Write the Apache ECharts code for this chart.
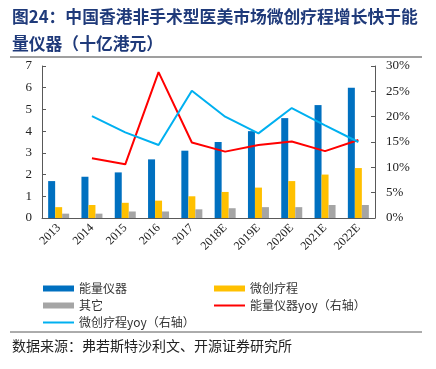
<!DOCTYPE html>
<html><head><meta charset="utf-8">
<script src="https://cdn.jsdelivr.net/npm/echarts@6/dist/echarts.min.js"></script>
<style>html,body{margin:0;padding:0;background:#fff}#c{width:436px;height:369px}</style>
</head><body><div id="c"></div>
<script>
const categories = ['2013','2014','2015','2016','2017','2018E','2019E','2020E','2021E','2022E'];
const energyDevices = [1.7, 1.9, 2.1, 2.7, 3.1, 3.5, 4.0, 4.6, 5.2, 6.0];
const minimallyInvasive = [0.5, 0.6, 0.7, 0.8, 1.0, 1.2, 1.4, 1.7, 2.0, 2.3];
const others = [0.2, 0.2, 0.3, 0.3, 0.4, 0.45, 0.5, 0.5, 0.6, 0.6];
const energyYoy = [null, 11.8, 10.6, 28.8, 14.9, 13.1, 14.4, 15.1, 13.2, 15.4];
const minimallyYoy = [null, 20.1, 16.9, 14.4, 25.1, 20.0, 16.7, 21.7, 18.3, 15.0];
const leftTicks = {min: 0, max: 7, interval: 1};
const rightTicks = {min: 0, max: 30, interval: 5};

const titleLine1 = '图24：中国香港非手术型医美市场微创疗程增长快于能';
const titleLine2 = '量仪器（十亿港元）';
const sourceText = '数据来源：弗若斯特沙利文、开源证券研究所';

const cjk = '"Noto Sans CJK SC", sans-serif';
const serif = '"Liberation Serif", "Times New Roman", serif';
const axisColor = '#595959';
const lineIcon = 'path://M0,0 L31,0 L31,2 L0,2 Z';

const chart = echarts.init(document.getElementById('c'));
chart.setOption({
  animation: false,
  backgroundColor: '#fff',
  grid: {left: 42, right: 61, top: 66, bottom: 151},
  graphic: [
    {type: 'text', left: 12, top: 8, style: {text: titleLine1, font: 'bold 16.8px ' + cjk, fill: '#1F3A7A'}},
    {type: 'text', left: 12, top: 35, style: {text: titleLine2, font: 'bold 16.8px ' + cjk, fill: '#1F3A7A'}},
    {type: 'line', shape: {x1: 10, y1: 57, x2: 422, y2: 57}, style: {stroke: '#7f7f7f', lineWidth: 1.5}},
    {type: 'line', shape: {x1: 10, y1: 332, x2: 422, y2: 332}, style: {stroke: '#595959', lineWidth: 1}},
    {type: 'text', left: 12, top: 339, style: {text: sourceText, font: '14px ' + cjk, fill: '#222'}}
  ],
  legend: [
    {data: [{name: '能量仪器', icon: 'rect'}, {name: '其它', icon: 'rect'}, {name: '微创疗程yoy（右轴）', icon: lineIcon}],
     orient: 'vertical', left: 38, top: 275, itemWidth: 31, itemHeight: 6, itemGap: 0,
     textStyle: {fontFamily: cjk, fontSize: 12, color: '#333', lineHeight: 17, height: 17}},
    {data: [{name: '微创疗程', icon: 'rect'}, {name: '能量仪器yoy（右轴）', icon: lineIcon}],
     orient: 'vertical', left: 209, top: 275, itemWidth: 31, itemHeight: 6, itemGap: 0,
     textStyle: {fontFamily: cjk, fontSize: 12, color: '#333', lineHeight: 17, height: 17}}
  ],
  xAxis: {
    type: 'category', data: categories, boundaryGap: true,
    axisLine: {lineStyle: {color: axisColor, width: 1}},
    axisTick: {inside: true, length: 3, lineStyle: {color: axisColor}},
    axisLabel: {rotate: 45, interval: 0, fontFamily: serif, fontSize: 12, color: '#222', margin: 8}
  },
  yAxis: [
    {type: 'value', min: leftTicks.min, max: leftTicks.max, interval: leftTicks.interval,
     splitLine: {show: false},
     axisLine: {show: true, lineStyle: {color: axisColor}},
     axisTick: {show: true, inside: true, length: 4, lineStyle: {color: axisColor}},
     axisLabel: {fontFamily: serif, fontSize: 13, color: '#222', margin: 10}},
    {type: 'value', min: rightTicks.min, max: rightTicks.max, interval: rightTicks.interval,
     splitLine: {show: false},
     axisLine: {show: true, lineStyle: {color: axisColor}},
     axisTick: {show: true, inside: true, length: 4, lineStyle: {color: axisColor}},
     axisLabel: {fontFamily: serif, fontSize: 13, color: '#222', margin: 11, formatter: '{value}%'}}
  ],
  series: [
    {name: '能量仪器', type: 'bar', data: energyDevices, barWidth: 7, barGap: '0%', itemStyle: {color: '#0070C0'}},
    {name: '微创疗程', type: 'bar', data: minimallyInvasive, barWidth: 7, barGap: '0%', itemStyle: {color: '#FFC000'}},
    {name: '其它', type: 'bar', data: others, barWidth: 7, barGap: '0%', itemStyle: {color: '#A5A5A5'}},
    {name: '能量仪器yoy（右轴）', type: 'line', yAxisIndex: 1, data: energyYoy, symbol: 'none',
     lineStyle: {color: '#FF0000', width: 2}, itemStyle: {color: '#FF0000'}},
    {name: '微创疗程yoy（右轴）', type: 'line', yAxisIndex: 1, data: minimallyYoy, symbol: 'none',
     lineStyle: {color: '#00B0F0', width: 2}, itemStyle: {color: '#00B0F0'}}
  ]
});
</script></body></html>
